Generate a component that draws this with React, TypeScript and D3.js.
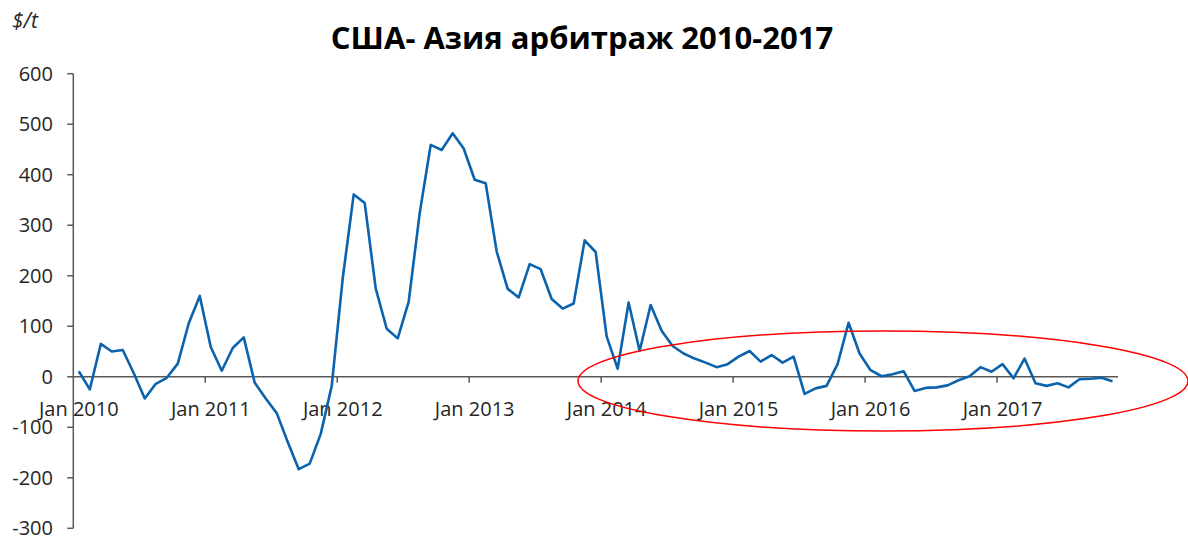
import React from 'react';
import * as d3 from 'd3';

// monthly arbitrage, Jan 2010 .. Nov 2017, $/t
const values = [
  11, -25, 65, 50, 53, 7, -43, -14, -2, 26, 106, 160,
  59, 12, 57, 78, -12, -43, -72, -129, -183, -172, -113, -18,
  195, 361, 344, 175, 95, 76, 149, 324, 459, 449, 482, 452,
  390, 383, 248, 174, 157, 223, 213, 154, 135, 145, 270, 247,
  80, 16, 147, 51, 142, 91, 61, 46, 36, 28, 19, 25,
  40, 51, 30, 43, 28, 40, -34, -23, -18, 25, 107, 46,
  13, 1, 5, 11, -28, -22, -21, -17, -7, 1, 19, 10,
  25, -3, 36, -13, -18, -13, -21, -5, -4, -2, -9,
];
const yearLabels = ['Jan 2010', 'Jan 2011', 'Jan 2012', 'Jan 2013', 'Jan 2014', 'Jan 2015', 'Jan 2016', 'Jan 2017'];
const yTicks = [-300, -200, -100, 0, 100, 200, 300, 400, 500, 600];

const W = 1188;
const H = 538;
const font = '"Open Sans", "Noto Sans", sans-serif';

export default function App() {
  const x = d3.scaleLinear().domain([0, values.length]).range([73.3, 1118]);
  const y = d3.scaleLinear().domain([-300, 600]).range([528.3, 73.7]);

  const line = d3.line<number>()
    .x((d, i) => x(i + 0.5))
    .y(d => y(d));

  const axisColor = '#595959';

  return (
    <svg width={W} height={H} style={{ position: 'absolute', left: 0, top: 0, background: '#fff' }}>
      <text x={582} y={49} textAnchor="middle" fontFamily={font} fontWeight="bold" fontSize={31} fill="#000">
        США- Азия арбитраж 2010-2017
      </text>
      <text x={12} y={28} fontFamily={font} fontStyle="italic" fontSize={21} fill="#262626">$/t</text>

      {/* y axis */}
      <line x1={x(0)} x2={x(0)} y1={y(-300)} y2={y(600)} stroke={axisColor} strokeWidth={1.5} />
      {yTicks.map(t => (
        <g key={t}>
          <line x1={x(0) - 6} x2={x(0)} y1={y(t)} y2={y(t)} stroke={axisColor} strokeWidth={1.5} />
          <text x={53} y={y(t)} dy="0.35em" textAnchor="end" fontFamily={font} fontSize={20} fill="#262626">{t}</text>
        </g>
      ))}

      {/* x axis on zero */}
      <line x1={x(0)} x2={x(values.length)} y1={y(0)} y2={y(0)} stroke={axisColor} strokeWidth={1.5} />
      {yearLabels.map((lab, k) => (
        <g key={lab}>
          {k > 0 && <line x1={x(k * 12)} x2={x(k * 12)} y1={y(0)} y2={y(0) + 6} stroke={axisColor} strokeWidth={1.5} />}
          <text x={x(k * 12 + 0.5)} y={416} textAnchor="middle" fontFamily={font} fontSize={20} fill="#262626">{lab}</text>
        </g>
      ))}

      <path d={line(values) || ''} fill="none" stroke="#0b62ad" strokeWidth={2.6} strokeLinejoin="round" />

      <ellipse cx={883} cy={381} rx={305} ry={50} fill="none" stroke="#ff0000" strokeWidth={1.5} />
    </svg>
  );
}
